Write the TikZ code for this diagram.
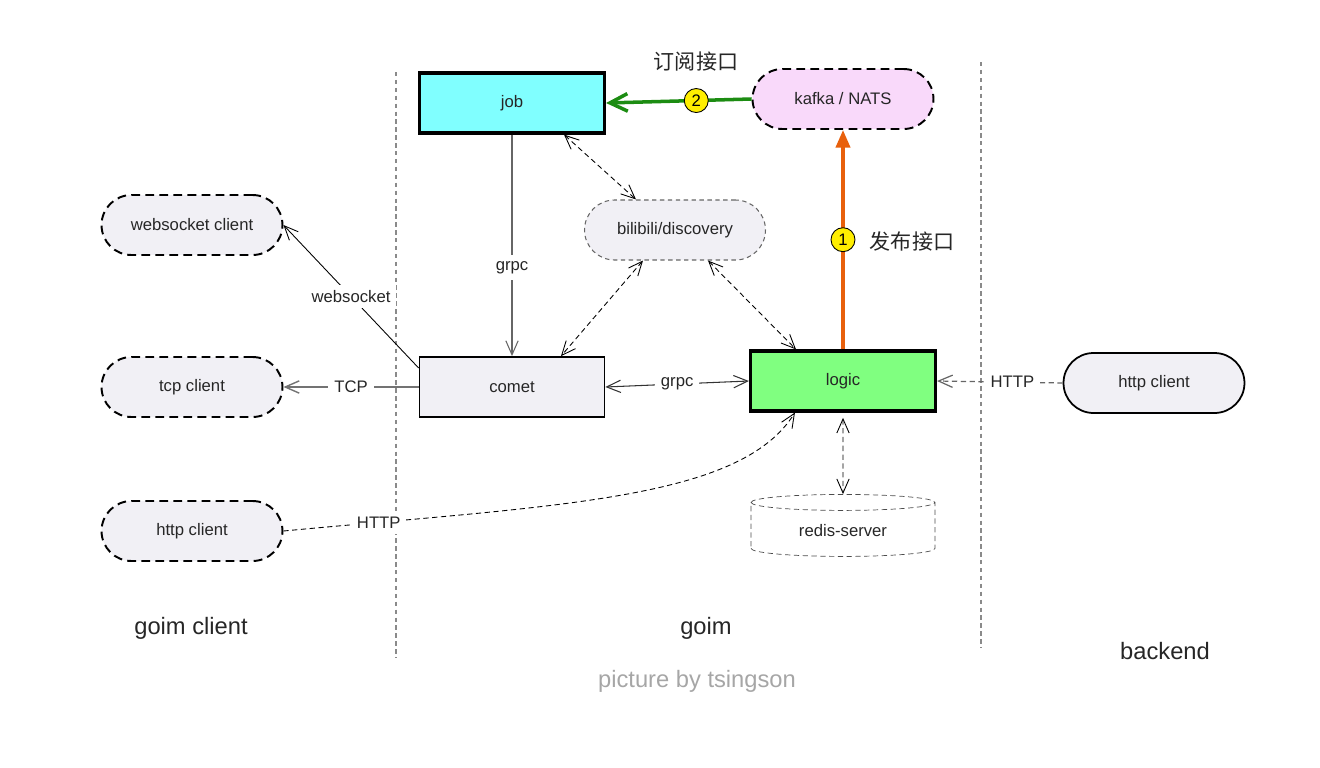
\documentclass[tikz,border=0pt]{standalone}
\usepackage{fontspec}
\setmainfont{Liberation Sans}
\newfontfamily\cjk{Noto Sans CJK SC}
\usetikzlibrary{arrows.meta,shapes.geometric}

\definecolor{jobcyan}{HTML}{80FFFF}
\definecolor{logicgreen}{HTML}{80FF80}
\definecolor{mqpink}{HTML}{F9D9FA}
\definecolor{panel}{HTML}{F1F0F5}
\definecolor{badge}{HTML}{FFEE00}
\definecolor{subgreen}{HTML}{1C8C12}
\definecolor{puborange}{HTML}{E8600C}
\definecolor{rulegray}{HTML}{8A8A8A}

\begin{document}
\begin{tikzpicture}[x=0.02cm,y=-0.02cm,
  every node/.style={font=\fontsize{9.5}{11}\selectfont, text=black!85},
  >={Straight Barb[length=8pt,width=7pt]},
  box/.style={draw, minimum width=3.7cm, minimum height=1.2cm},
  pill/.style={draw, rounded corners=0.6cm, minimum width=3.62cm, minimum height=1.2cm, fill=panel},
  client/.style={pill, line width=1.1pt, dash pattern=on 5pt off 3pt},
  cyl/.style={draw, cylinder, shape border rotate=90, aspect=0.16, minimum width=3.68cm,
    minimum height=1.24cm, dash pattern=on 3pt off 2pt, draw=black!70},
  badge/.style={circle, draw=black, line width=0.5pt, fill=badge, inner sep=0pt, minimum size=0.48cm, text=black},
  dbl/.style={<->, dash pattern=on 3pt off 2pt, line width=0.5pt},
  divider/.style={rulegray, line width=0.8pt, dash pattern=on 2.5pt off 2pt},
  big/.style={font=\fontsize{13.5}{16}\selectfont}
]
\useasboundingbox (0,0) rectangle (1320,768);

% columns
\draw[divider] (396,72) -- (396,658);
\draw[divider] (981,62) -- (981,648);

% goim
\node[box, fill=jobcyan, line width=1.8pt] (job) at (512,103) {job};
\node[client, fill=mqpink] (mq) at (843,99) {kafka / NATS};
\node[pill, draw=black!60, dash pattern=on 2.5pt off 2pt, line width=0.6pt] (disc) at (675,230) {bilibili/discovery};
\node[box, fill=panel, line width=1pt] (comet) at (512,387) {comet};
\node[box, fill=logicgreen, line width=1.8pt] (logic) at (843,381) {logic};
\node[cyl] (redis) at (843,531) {redis-server};

% clients
\node[client] (wsc) at (192,225) {websocket client};
\node[client] (tcpc) at (192,387) {tcp client};
\node[client] (httpc) at (192,531) {http client};
\node[pill, line width=1pt] (backc) at (1154,383) {http client};

\draw[subgreen, line width=2pt, -{Straight Barb[length=10pt,width=10pt]}] (mq.west) -- node[pos=0.38, badge] {2} (job.east);
\node[font=\cjk\fontsize{12}{14}\selectfont] (sub) at (696,62) {订阅接口};
\draw[puborange, line width=2pt, -{Triangle[length=10pt,width=8pt]}] (logic.north) -- node[badge] {1} (mq.south);
\node[font=\cjk\fontsize{12}{14}\selectfont] (pub) at (912,241) {发布接口};

\draw[dbl] ([xshift=1.04cm]job.south) -- ([xshift=-0.78cm]disc.north);
\draw[dbl] ([xshift=-0.64cm]disc.south) -- ([xshift=0.98cm]comet.north);
\draw[dbl] ([xshift=0.66cm]disc.south) -- ([xshift=-0.94cm]logic.north);
\draw[->, black!60, line width=0.6pt] (job.south) -- node[pos=0.6, fill=white] {grpc} (comet.north);
\draw[<->, black!80, line width=0.6pt] (comet.east) -- node[fill=white] {grpc} (logic.west);
\draw[dbl, shorten <=3pt] (logic.south) -- (redis.north);

\draw[->, line width=0.5pt] ([yshift=0.38cm]comet.west) -- node[fill=white] {websocket} (wsc.east);
\draw[->, black!55, line width=0.8pt] (comet.west) -- node[fill=white, text=black!85] {TCP} (tcpc.east);
\draw[->, dash pattern=on 3pt off 2pt, line width=0.5pt] (httpc.east) .. controls (560,505) and (740,500) .. node[pos=0.12, fill=white] {HTTP} ([xshift=0.92cm]logic.south west);
\draw[->, black!60, dash pattern=on 3pt off 2pt, line width=0.7pt] (backc.west) -- node[pos=0.4, fill=white, text=black!85] {HTTP} (logic.east);

\node[big] (lclient) at (191,628) {goim client};
\node[big] (lgoim) at (706,628) {goim};
\node[big] (lback) at (1165,651) {backend};
\node[big, text=black!35] (credit) at (697,681) {picture by tsingson};
\end{tikzpicture}
\end{document}
